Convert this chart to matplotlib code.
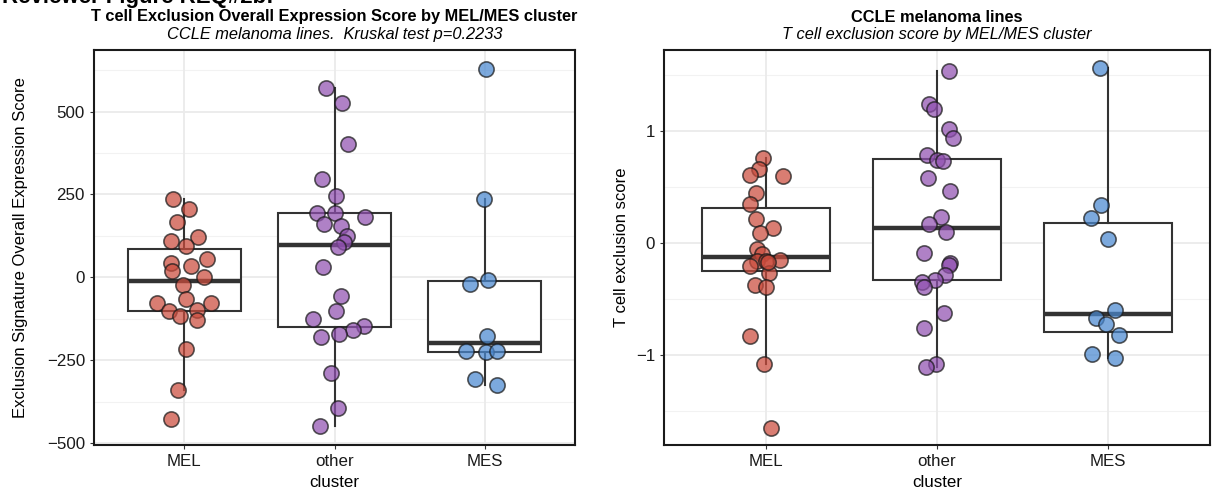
import numpy as np
import matplotlib
matplotlib.use("Agg")
import matplotlib.pyplot as plt

plt.rcParams['font.family'] = ['Liberation Sans', 'DejaVu Sans']

clusters = ["MEL", "other", "MES"]
colors = ["#CB4B3C", "#9050B0", "#4A88D0"]

# left panel: overall expression score
mel_score = [236, 206, 168, 110, 121, 95, 44, 54, 34, 19, 2, -23, -65, -76,
             -78, -102, -99, -117, -129, -216, -340, -427]
mel_jit1 = [-0.076, 0.029, -0.049, -0.089, 0.091, 0.013, -0.089, 0.151, 0.044,
            -0.082, 0.133, -0.011, 0.013, -0.178, 0.178, -0.104, 0.084, -0.031,
            0.084, 0.013, -0.042, -0.087]
oth_score = [572, 525, 402, 298, 246, 195, 193, 183, 160, 156, 126, 106, 92, 32,
             -55, -101, -126, -146, -159, -171, -181, -289, -395, -450]
oth_jit1 = [-0.056, 0.051, 0.089, -0.082, 0.007, -0.116, 0.0, 0.202, -0.071,
            0.044, 0.084, 0.062, 0.022, -0.078, 0.044, 0.007, -0.142, 0.196,
            0.122, 0.029, -0.087, -0.022, 0.022, -0.098]
mes_score = [630, 236, -21, -8, -177, -222, -226, -222, -307, -325]
mes_jit1 = [0.007, -0.004, -0.1, 0.022, 0.013, -0.127, 0.007, 0.08, -0.067, 0.08]

# right panel: exclusion score
mel_excl = [0.758, 0.663, 0.609, 0.597, 0.448, 0.349, 0.215, 0.134, 0.090, -0.054,
            -0.099, -0.149, -0.164, -0.164, -0.209, -0.263, -0.373, -0.388,
            -0.830, -1.075, -1.645, -0.167]
mel_jit2 = [-0.021, -0.045, -0.094, 0.096, -0.062, -0.095, -0.060, 0.039, -0.035,
            -0.055, -0.025, 0.082, -0.055, 0.0, -0.094, 0.014, -0.064, 0.0,
            -0.097, -0.016, 0.029, 0.010]
oth_excl = [1.537, 1.236, 1.194, 1.012, 0.940, 0.788, 0.737, 0.731, 0.579, 0.463,
            0.236, 0.170, 0.101, -0.087, -0.179, -0.194, -0.287, -0.331, -0.343,
            -0.388, -0.621, -0.755, -1.075, -1.104]
oth_jit2 = [0.068, -0.049, -0.019, 0.068, 0.094, -0.058, 0.0, 0.033, -0.053, 0.078,
            0.023, -0.049, 0.053, -0.074, 0.078, 0.068, 0.049, -0.010, -0.088,
            -0.074, 0.039, -0.074, -0.004, -0.062]
mes_excl = [1.564, 0.340, 0.224, 0.036, -0.600, -0.666, -0.719, -0.821, -0.985, -1.024]
mes_jit2 = [-0.045, -0.039, -0.099, 0.0, 0.043, -0.068, -0.012, 0.068, -0.090, 0.043]

W, H = 1212, 493
fig = plt.figure(figsize=(W / 100, H / 100), dpi=100)


def rect(x0, x1, y0, y1):
    return [x0 / W, 1 - y1 / H, (x1 - x0) / W, (y1 - y0) / H]


def panel(ax, groups, jitters, title, subtitle, ylabel, ylim, major, minor, ylab_x):
    pos = [1, 2, 3]
    ax.set_xlim(0.4, 3.6)
    ax.set_ylim(*ylim)
    for y in minor:
        ax.axhline(y, color="#F2F2F2", lw=0.8, zorder=0)
    for y in major:
        ax.axhline(y, color="#EBEBEB", lw=1.3, zorder=0)
    for p in pos:
        ax.axvline(p, color="#EBEBEB", lw=1.3, zorder=0)
    ax.boxplot(groups, positions=pos, widths=0.75, showfliers=False,
               showcaps=False, patch_artist=True, whis=1.5,
               boxprops=dict(facecolor="white", edgecolor="#333333", lw=1.5),
               whiskerprops=dict(color="#333333", lw=1.5),
               medianprops=dict(color="#333333", lw=3.2),
               zorder=2)
    for p, vals, jit, c in zip(pos, groups, jitters, colors):
        ax.scatter(np.array(jit) + p, vals, s=120, color=c, alpha=0.72,
                   edgecolors="#1a1a1a", linewidths=1.2, zorder=3)
    ax.set_xticks(pos)
    ax.set_xticklabels(clusters)
    ax.set_yticks(major)
    ax.tick_params(axis="both", colors="#333333", length=3, width=0.8,
                   labelsize=12.2, labelcolor="#1a1a1a")
    for s in ax.spines.values():
        s.set_linewidth(1.5)
        s.set_color("#1a1a1a")
    ax.set_xlabel("cluster", fontsize=12.2, labelpad=4)
    ax.set_ylabel(ylabel, fontsize=12)
    ax.yaxis.set_label_coords(ylab_x, 0.5)
    ax.text(0.5, 1 + 33 / 395, title, transform=ax.transAxes, ha="center",
            va="center", fontsize=11.8, fontweight="bold")
    ax.text(0.5, 1 + 15 / 395, subtitle, transform=ax.transAxes, ha="center",
            va="center", fontsize=11.8, style="italic")


ax1 = fig.add_axes(rect(94, 575, 50, 445))
panel(ax1, [mel_score, oth_score, mes_score], [mel_jit1, oth_jit1, mes_jit1],
      "T cell Exclusion Overall Expression Score by MEL/MES cluster",
      "CCLE melanoma lines.  Kruskal test p=0.2233",
      "Exclusion Signature Overall Expression Score",
      (-506, 686), [-500, -250, 0, 250, 500], [-375, -125, 125, 375, 625],
      (28 - 94) / 481)

ax2 = fig.add_axes(rect(664, 1210, 50, 445))
panel(ax2, [mel_excl, oth_excl, mes_excl], [mel_jit2, oth_jit2, mes_jit2],
      "CCLE melanoma lines",
      "T cell exclusion score by MEL/MES cluster",
      "T cell exclusion score",
      (-1.80, 1.72), [-1, 0, 1], [-1.5, -0.5, 0.5, 1.5],
      (629 - 664) / 546)

# header cut off at the top of the original screenshot
fig.text(2 / W, 1 - 3 / H, "Reviewer Figure REQ#2b:", fontsize=16,
         fontweight="bold", ha="left", va="baseline")

fig.savefig("out.png", dpi=100)
